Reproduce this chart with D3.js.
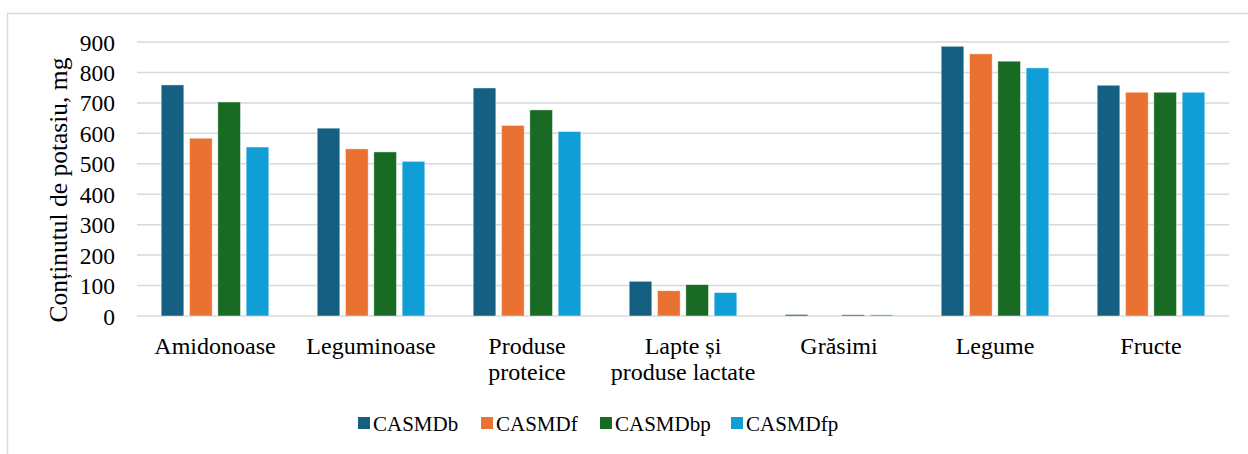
<!DOCTYPE html>
<html>
<head>
<meta charset="utf-8">
<script src="https://cdn.jsdelivr.net/npm/d3@7"></script>
<style>
  body { margin: 0; background: #fff; }
  text { font-family: "Liberation Serif", "Times New Roman", serif; fill: #000; }
</style>
</head>
<body>
<div class="chart"></div>
<script>
const categories = ["Amidonoase", "Leguminoase", "Produse\nproteice", "Lapte și\nproduse lactate", "Grăsimi", "Legume", "Fructe"];
const seriesNames = ["CASMDb", "CASMDf", "CASMDbp", "CASMDfp"];
const CASMDb  = [759, 617, 749, 114, 5, 886, 758];
const CASMDf  = [584, 549, 626, 83, 0, 861, 735];
const CASMDbp = [703, 539, 677, 103, 4, 837, 735];
const CASMDfp = [555, 508, 606, 77, 4, 815, 735];
const yTicks = [0, 100, 200, 300, 400, 500, 600, 700, 800, 900];
const colors = ["#156082", "#E97132", "#196B24", "#0F9ED5"];

const allSeries = [CASMDb, CASMDf, CASMDbp, CASMDfp];

let svg = d3.select(".chart").append("svg")
            .attr("width", 1248)
            .attr("height", 454)

// frame
svg.append("rect")
   .attr("x", 7.5).attr("y", 13.5)
   .attr("width", 1260).attr("height", 460)
   .attr("fill", "none")
   .attr("stroke", "#d9d9d9")
   .attr("stroke-width", 1.5)

let x0 = d3.scaleBand()
           .domain(categories)
           .range([137, 1229])
           .paddingInner(0.31)
           .paddingOuter(0.155)
let x1 = d3.scaleBand()
           .domain(seriesNames)
           .range([0, x0.bandwidth()])
           .paddingInner(0.2)
let y = d3.scaleLinear()
          .domain([0, 900])
          .range([316, 42])

// gridlines
svg.append("g")
   .selectAll("line")
   .data(yTicks)
   .join("line")
   .attr("x1", 137).attr("x2", 1229)
   .attr("y1", d => y(d)).attr("y2", d => y(d))
   .attr("stroke", "#d9d9d9")
   .attr("stroke-width", 1.5)

// y axis labels
let yAxis = d3.axisLeft(y).tickValues(yTicks).tickSize(0).tickPadding(6)
let ya = svg.append("g").attr("transform", "translate(121,0)").call(yAxis)
ya.select(".domain").remove()
ya.selectAll("text")
  .attr("font-size", 23.5)
  .attr("font-family", "Liberation Serif")
  .attr("fill", "#000")
  .attr("dy", "0.34em")

// bars
seriesNames.forEach((s, si) => {
  svg.append("g")
     .selectAll("rect")
     .data(allSeries[si])
     .join("rect")
     .attr("x", (d, i) => x0(categories[i]) + x1(s))
     .attr("y", d => y(d))
     .attr("width", x1.bandwidth())
     .attr("height", d => y(0) - y(d))
     .attr("fill", colors[si])
     .attr("stroke", "#fff")
     .attr("stroke-opacity", 0.6)
     .attr("stroke-width", 0.75)
})

// category labels
let cat = svg.append("g")
categories.forEach(c => {
  let lines = c.split("\n")
  let t = cat.append("text")
             .attr("x", x0(c) + x0.bandwidth() / 2)
             .attr("y", 354)
             .attr("text-anchor", "middle")
             .attr("font-size", 24)
  lines.forEach((l, k) => {
    t.append("tspan")
     .attr("x", x0(c) + x0.bandwidth() / 2)
     .attr("dy", k == 0 ? 0 : 26)
     .text(l)
  })
})

// y title
svg.append("text")
   .attr("transform", "translate(67,190) rotate(-90)")
   .attr("text-anchor", "middle")
   .attr("font-size", 25.5)
   .text("Conținutul de potasiu, mg")

// legend
const legendX = [358, 481, 600, 731]
seriesNames.forEach((s, i) => {
  svg.append("rect")
     .attr("x", legendX[i]).attr("y", 417)
     .attr("width", 12).attr("height", 12)
     .attr("fill", colors[i])
  svg.append("text")
     .attr("x", legendX[i] + 15).attr("y", 431)
     .attr("font-size", 21)
     .text(s)
})
</script>
</body>
</html>
